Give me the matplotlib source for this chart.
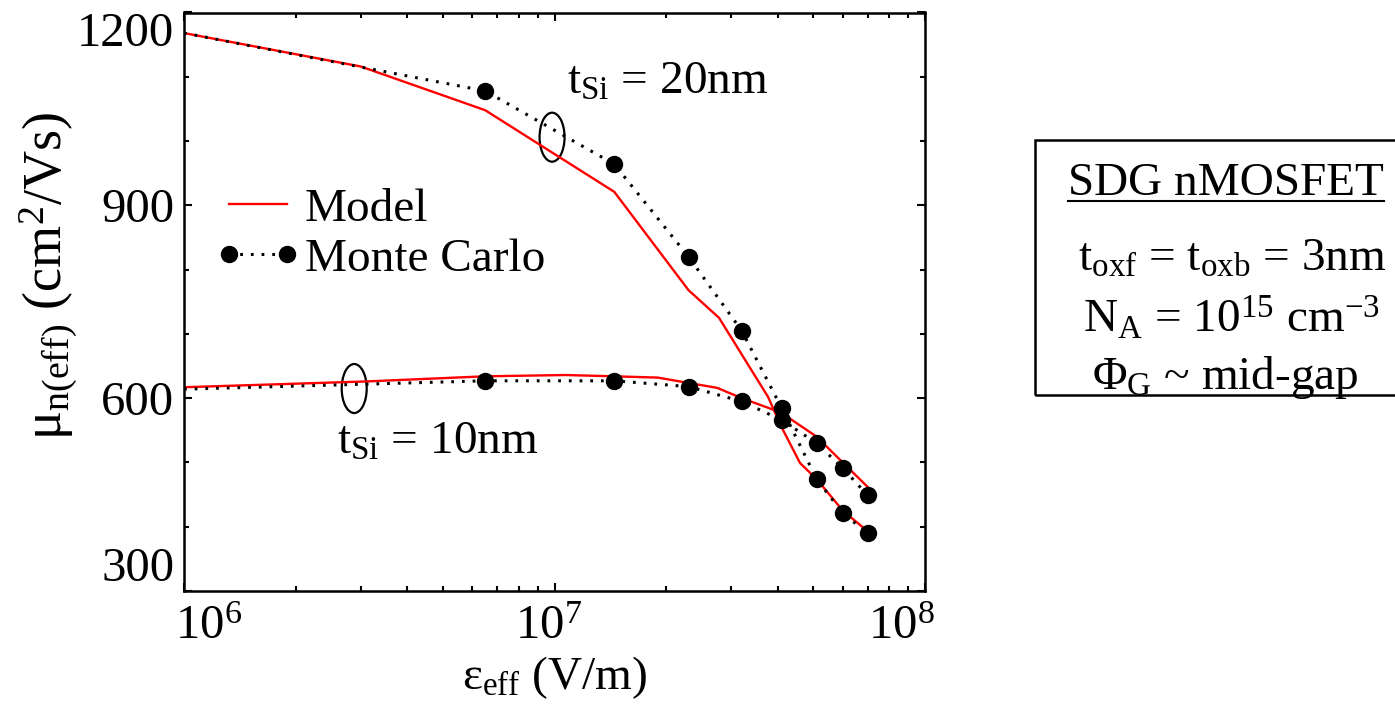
import matplotlib
matplotlib.use('Agg')
import matplotlib.pyplot as plt
from matplotlib.patches import Ellipse, Rectangle
from matplotlib.lines import Line2D
from matplotlib.legend_handler import HandlerLine2D
from matplotlib.ticker import LogLocator, MultipleLocator, NullFormatter
import matplotlib.transforms as mtransforms

plt.rcParams['font.family'] = 'Liberation Serif'
plt.rcParams['mathtext.fontset'] = 'custom'
plt.rcParams['mathtext.rm'] = 'Liberation Serif'
plt.rcParams['mathtext.it'] = 'Liberation Serif:italic'
plt.rcParams['mathtext.default'] = 'regular'

# effective field (V/m) and effective mobility (cm^2/Vs)
field_mc = [1e6, 6.5e6, 1.45e7, 2.3e7, 3.2e7, 4.1e7, 5.1e7, 6.0e7, 7.0e7]
mc_20nm = [1168, 1078, 964, 820, 705, 585, 474, 421, 390]
mc_10nm = [614, 627, 627, 618, 595, 566, 530, 491, 449]

field_model_20 = [1e6, 3.0e6, 6.5e6, 1.45e7, 2.3e7, 2.78e7, 3.77e7, 4.1e7, 4.6e7, 5.1e7, 6.0e7, 7.0e7]
model_20nm = [1168, 1116, 1048, 921, 768, 725, 602, 555, 499, 474, 425, 393]

field_model_10 = [1e6, 3.1e6, 6.5e6, 1.07e7, 1.45e7, 1.9e7, 2.75e7, 3.2e7, 3.9e7, 4.3e7, 5.1e7, 5.9e7, 7.0e7]
model_10nm = [617, 626, 634, 636, 634, 632, 616, 600, 582, 569, 540, 504, 462]

x_ticks = [1e6, 1e7, 1e8]
x_ticklabels = [r'$10^{6}$', r'$10^{7}$', r'$10^{8}$']
y_ticks = [300, 600, 900, 1200]

FS = 34
dots = (0, (0.9, 2.6))

fig = plt.figure(figsize=(13.95, 7.14), dpi=100)
ax = fig.add_axes([184 / 1395, 1 - 591 / 714, (925 - 184) / 1395, (591 - 12.5) / 714])

ax.plot(field_model_20, model_20nm, color='red', lw=1.7)
ax.plot(field_model_10, model_10nm, color='red', lw=1.7)
ax.plot(field_mc, mc_20nm, color='black', ls=dots, lw=2.2, marker='o', ms=11.5,
        markevery=range(1, len(field_mc)))
ax.plot(field_mc, mc_10nm, color='black', ls=dots, lw=2.2, marker='o', ms=11.5,
        markevery=range(1, len(field_mc)))

ax.set_xscale('log')
ax.set_xlim(1e6, 1e8)
ax.set_ylim(300, 1200)

ax.set_xticks(x_ticks, x_ticklabels)
ax.xaxis.set_minor_locator(LogLocator(base=10, subs=range(2, 10)))
ax.xaxis.set_minor_formatter(NullFormatter())
ax.set_yticks(y_ticks)
ax.yaxis.set_minor_locator(MultipleLocator(100))

ax.tick_params(which='both', direction='in', top=True, right=True, width=1.5,
               labelsize=35)
ax.tick_params(which='major', length=6)
ax.tick_params(which='minor', length=3.6)
ax.tick_params(axis='x', pad=10)
ax.tick_params(axis='y', pad=7)
for s in ax.spines.values():
    s.set_linewidth(1.8)

# keep the end labels inside the frame
ylabels = ax.get_yticklabels()
ylabels[0].set_va('bottom')
ylabels[-1].set_va('top')
xlabels = ax.get_xticklabels()
shifts = [-9, -6, 10]
xlabels[0].set_ha('left')
xlabels[-1].set_ha('right')
for lab, dx in zip(xlabels, shifts):
    lab.set_transform(lab.get_transform() +
                      mtransforms.ScaledTranslation(dx / 100, 0, fig.dpi_scale_trans))

ax.set_xlabel(r'ε$_{\mathrm{eff}}$ (V/m)', fontsize=FS, labelpad=4)
ax.set_ylabel(r'μ$_{\mathrm{n(eff)}}$ (cm$^{2}$/Vs)', fontsize=39)
ax.yaxis.set_label_coords(-0.14, 0.545)

# legend
h_model = Line2D([], [], color='red', lw=1.7)
h_mc = Line2D([], [], color='black', ls=dots, lw=2.2, marker='o', ms=11.5)
ax.legend([h_model, h_mc], ['Model', 'Monte Carlo'], loc='upper left',
          bbox_to_anchor=(0.0607, 0.697), frameon=False, fontsize=FS,
          handler_map={Line2D: HandlerLine2D(marker_pad=0, numpoints=2)},
          handlelength=1.23, handletextpad=0.38, labelspacing=0.15, borderpad=0,
          borderaxespad=0)

# thickness labels with ellipses around the curve pairs
ax.text(1.083e7, 1074, r'$\mathrm{t_{Si}}$ = 20nm', fontsize=FS, ha='left', va='baseline')
ax.text(2.58e6, 513, r'$\mathrm{t_{Si}}$ = 10nm', fontsize=FS, ha='left', va='baseline')
for cx, cy in [(9.85e6, 1006), (2.88e6, 615)]:
    px, py = ax.transData.transform((cx, cy))
    ax.add_patch(Ellipse((px, py), 25, 49, transform=mtransforms.IdentityTransform(),
                         fill=False, lw=1.6, ec='black', clip_on=False))

# device parameters box
fig.add_artist(Rectangle((1035 / 1395, 1 - 395 / 714), 0.3, (395 - 140) / 714,
                         transform=fig.transFigure, fill=False, lw=1.8, ec='black'))
t_title = fig.text(1068 / 1395, 1 - 195 / 714, 'SDG nMOSFET', fontsize=FS, va='baseline')
fig.text(1078 / 1395, 1 - 271 / 714, r'$\mathrm{t_{oxf}}$ = $\mathrm{t_{oxb}}$ = 3nm',
         fontsize=FS, va='baseline')
fig.text(1083 / 1395, 1 - 332 / 714, r'$\mathrm{N_{A}}$ = $\mathrm{10^{15}}$ cm$^{\mathrm{-3}}$',
         fontsize=FS, va='baseline')
fig.text(1092 / 1395, 1 - 389 / 714, r'$\mathrm{\Phi_{G}}$ ~ mid-gap', fontsize=FS,
         va='baseline')

fig.canvas.draw()
bb = t_title.get_window_extent()
uy = (bb.y0 + 4) / 714
fig.add_artist(Line2D([bb.x0 / 1395, bb.x1 / 1395], [uy, uy], color='black', lw=1.5,
                      transform=fig.transFigure))

fig.savefig('out.png', dpi=100)
